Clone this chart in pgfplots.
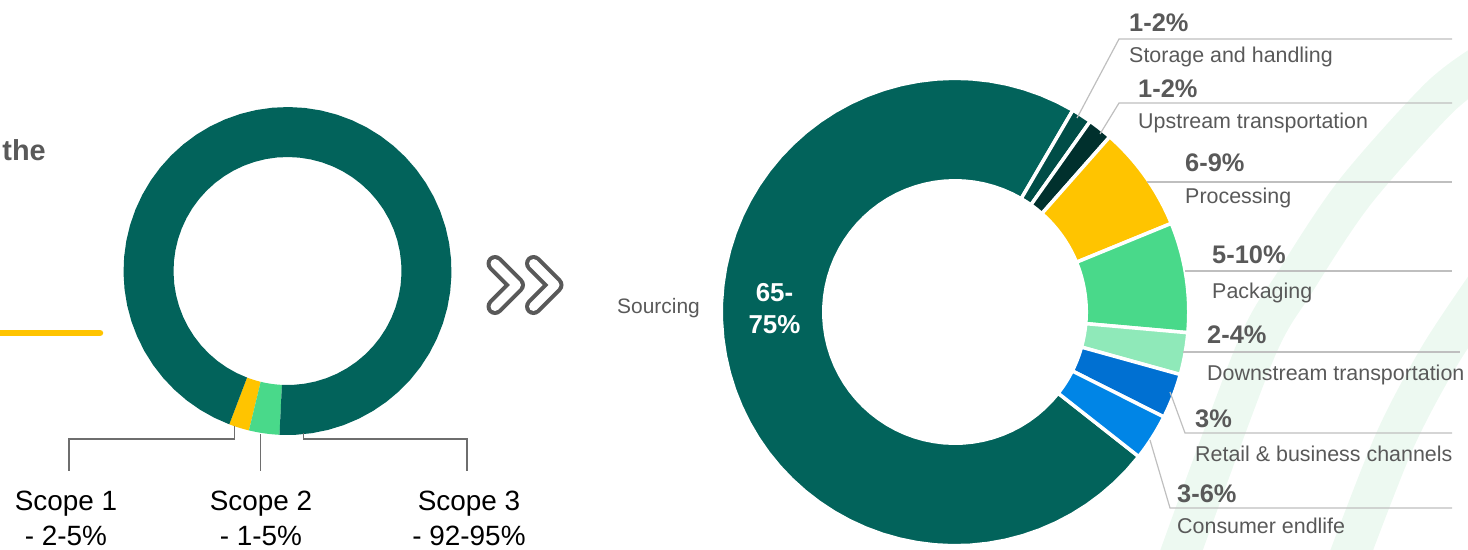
\documentclass[border=0pt]{standalone}
\usepackage{pgfplots}
\usepackage{pgfplotstable}
\pgfplotsset{compat=1.18}
\usepackage{fontspec}
\setmainfont{Liberation Sans}

\definecolor{cTeal}{RGB}{2,99,91}
\definecolor{cStorage}{RGB}{0,77,71}
\definecolor{cUp}{RGB}{0,48,45}
\definecolor{cYellow}{RGB}{255,196,0}
\definecolor{cGreen}{RGB}{73,217,138}
\definecolor{cLight}{RGB}{143,233,185}
\definecolor{cBlue1}{RGB}{0,112,210}
\definecolor{cBlue2}{RGB}{0,133,230}
\definecolor{labgray}{RGB}{89,89,89}
\definecolor{linegray}{RGB}{191,191,191}
\definecolor{leadgray}{RGB}{110,110,110}
\definecolor{bggreen}{RGB}{237,249,241}

% Left donut: emission scopes (share in %), drawn counter-clockwise
\pgfplotstableread{
name value color
Scope1 2 cYellow
Scope2 3 cGreen
Scope3 95 cTeal
}\leftdata

% Right donut: Scope 3 breakdown (share in %), drawn clockwise
\pgfplotstableread{
name value color
Sourcing 72.8 cTeal
Storage 1.4 cStorage
Upstream 1.7 cUp
Processing 7.3 cYellow
Packaging 7.6 cGreen
Downstream 2.9 cLight
Retail 3.1 cBlue1
Consumer 3.2 cBlue2
}\rightdata

% #1 table, #2 cx, #3 cy, #4 r_in, #5 r_out, #6 start angle, #7 direction (+1 ccw, -1 cw)
\newcommand\drawdonut[7]{%
  \pgfplotstablegetrowsof{#1}%
  \pgfmathtruncatemacro\nr{\pgfplotsretval-1}%
  \xdef\acur{#6}%
  \foreach \i in {0,...,\nr}{%
    \pgfplotstablegetelem{\i}{value}\of{#1}\let\segval\pgfplotsretval
    \pgfplotstablegetelem{\i}{color}\of{#1}\let\segcol\pgfplotsretval
    \pgfmathsetmacro\anext{\acur+#7*3.6*\segval}%
    \edef\tmp{\noexpand\addplot[fill=\segcol, \segdraw, domain=0:4, samples=241]
      ({#2+dr(x,#4,#5)*cos(da(x,\acur,\anext))},{#3-dr(x,#4,#5)*sin(da(x,\acur,\anext))}) -- cycle;}%
    \tmp
    \xdef\acur{\anext}%
  }%
}

\newcommand\pctlabel[5]{% x, y pct, y desc, pct, desc
  \node[anchor=base west, font=\fontsize{25.5}{30}\selectfont\bfseries, text=labgray, inner sep=0pt] at (axis cs:#1,#2) {#4};
  \node[anchor=base west, font=\fontsize{21.5}{25}\selectfont, text=labgray, inner sep=0pt] at (axis cs:#1,#3) {#5};
}
\newcommand\scopelabel[3]{% x, line1, line2
  \node[anchor=base, font=\fontsize{28}{34}\selectfont, text=black, inner sep=0pt] at (axis cs:#1,510) {#2};
  \node[anchor=base, font=\fontsize{28}{34}\selectfont, text=black, inner sep=0pt] at (axis cs:#1,545) {#3};
}

\begin{document}
\begin{tikzpicture}
\begin{axis}[
  width=1468bp, height=550bp, scale only axis,
  xmin=0, xmax=1468, ymin=0, ymax=550, y dir=reverse,
  hide axis, clip=false,
  declare function={
    dr(\t,\ri,\ro)=ifthenelse(\t<=1,\ro,ifthenelse(\t<=2,\ro-(\t-1)*(\ro-\ri),ifthenelse(\t<=3,\ri,\ri+(\t-3)*(\ro-\ri))));
    da(\t,\aa,\ab)=ifthenelse(\t<=1,\aa+\t*(\ab-\aa),ifthenelse(\t<=2,\ab,ifthenelse(\t<=3,\ab-(\t-2)*(\ab-\aa),\aa)));
  },
]
% faint background arcs
\begin{scope}
\clip (axis cs:0,0) rectangle (axis cs:1468,550);
\draw[bggreen, line width=40bp] plot[smooth] coordinates {(axis cs:1178,560) (axis cs:1255,352) (axis cs:1295,282) (axis cs:1355,192) (axis cs:1440,97) (axis cs:1490,60)};
\draw[bggreen, line width=40bp] plot[smooth] coordinates {(axis cs:1348,560) (axis cs:1395,440) (axis cs:1440,355) (axis cs:1490,280)};
\end{scope}

% left donut
\def\segdraw{draw=none}
\drawdonut{\leftdata}{287.5}{271}{114}{164}{-110.8}{1}

% right donut
\def\segdraw{draw=white, line width=3.5bp}
\drawdonut{\rightdata}{955}{312}{131.25}{233.75}{-38.2}{-1}

% left title fragment and accent line
\node[anchor=base east, font=\fontsize{29}{34}\selectfont\bfseries, text=labgray, inner sep=0pt] at (axis cs:46,160) {the};
\draw[cYellow, line width=6.5bp, line cap=round] (axis cs:-5,333) -- (axis cs:100,333);

% left leader lines
\draw[leadgray, line width=1.5bp] (axis cs:234.3,426) -- (axis cs:234.3,439) -- (axis cs:69,439) -- (axis cs:69,471);
\draw[leadgray, line width=1.5bp] (axis cs:260.7,434) -- (axis cs:260.7,471);
\draw[leadgray, line width=1.5bp] (axis cs:303.3,433) -- (axis cs:303.3,439) -- (axis cs:467,439) -- (axis cs:467,471);
\scopelabel{66}{Scope 1}{- 2-5\%}
\scopelabel{261}{Scope 2}{- 1-5\%}
\scopelabel{469}{Scope 3}{- 92-95\%}

% chevrons
\draw[labgray, line width=17bp, line cap=round, line join=round] (axis cs:495,263.5) -- (axis cs:516.5,285) -- (axis cs:495,306.5);
\draw[white, line width=9bp, line cap=round, line join=round] (axis cs:495,263.5) -- (axis cs:516.5,285) -- (axis cs:495,306.5);
\draw[labgray, line width=17bp, line cap=round, line join=round] (axis cs:533.5,263.5) -- (axis cs:555,285) -- (axis cs:533.5,306.5);
\draw[white, line width=9bp, line cap=round, line join=round] (axis cs:533.5,263.5) -- (axis cs:555,285) -- (axis cs:533.5,306.5);

% right donut labels
\node[anchor=base west, font=\fontsize{21}{25}\selectfont, text=labgray, inner sep=0pt] at (axis cs:617,313) {Sourcing};
\node[anchor=base, font=\fontsize{26}{30}\selectfont\bfseries, text=white, inner sep=0pt] at (axis cs:774.5,301) {65-};
\node[anchor=base, font=\fontsize{26}{30}\selectfont\bfseries, text=white, inner sep=0pt] at (axis cs:774.5,333) {75\%};

% horizontal and leader lines
\draw[linegray, line width=1.2bp] (axis cs:1077,118) -- (axis cs:1119,39) -- (axis cs:1452,39);
\draw[linegray, line width=1.2bp] (axis cs:1100,134) -- (axis cs:1119,103) -- (axis cs:1452,103);
\draw[linegray, line width=1.2bp] (axis cs:1147,182) -- (axis cs:1452,182);
\draw[linegray, line width=1.2bp] (axis cs:1185,271) -- (axis cs:1452,271);
\draw[linegray, line width=1.2bp] (axis cs:1183,352) -- (axis cs:1460,352);
\draw[linegray, line width=1.2bp] (axis cs:1170,392) -- (axis cs:1185,433) -- (axis cs:1452,433);
\draw[linegray, line width=1.2bp] (axis cs:1150,440) -- (axis cs:1170,508) -- (axis cs:1452,508);

\pctlabel{1129}{31}{62}{1-2\%}{Storage and handling}
\pctlabel{1138}{97}{128}{1-2\%}{Upstream transportation}
\pctlabel{1185}{171}{203}{6-9\%}{Processing}
\pctlabel{1212}{263}{298}{5-10\%}{Packaging}
\pctlabel{1207}{343}{380}{2-4\%}{Downstream transportation}
\pctlabel{1195}{427}{461}{3\%}{Retail \& business channels}
\pctlabel{1177}{502}{533}{3-6\%}{Consumer endlife}
\end{axis}
\pgfresetboundingbox
\useasboundingbox (0,0) rectangle (1468bp,550bp);
\end{tikzpicture}
\end{document}
